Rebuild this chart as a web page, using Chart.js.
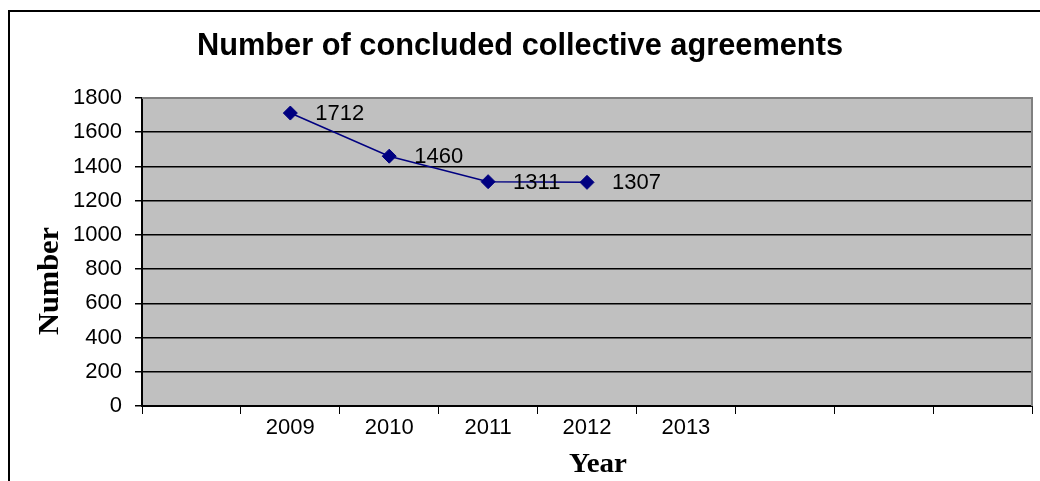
<!DOCTYPE html>
<html lang="en">
<head>
    <meta charset="UTF-8">
    <title>Number of concluded collective agreements</title>
    <script src="https://cdn.jsdelivr.net/npm/chart.js"></script>
    <style>
        body { margin: 0; background: #fff; }
    </style>
</head>
<body>
<canvas id="myChart" width="1040" height="481"></canvas>

<script>
    // Data
    var years = ['', '2009', '2010', '2011', '2012', '2013', '', '', ''];
    var agreements = [null, 1712, 1460, 1311, 1307, null, null, null, null];
    var yTicks = [0, 200, 400, 600, 800, 1000, 1200, 1400, 1600, 1800];

    var titleText = 'Number of concluded collective agreements';
    var yTitle = 'Number';
    var xTitle = 'Year';

    var ctx = document.getElementById('myChart').getContext('2d');

    // draw text stretched to a given width
    function stretchedText(c, text, x, y, width, rotate) {
        c.save();
        c.translate(x, y);
        if (rotate) c.rotate(-Math.PI / 2);
        var w = c.measureText(text).width;
        c.scale(width / w, 1);
        c.textAlign = 'center';
        c.textBaseline = 'middle';
        c.fillText(text, 0, 0);
        c.restore();
    }

    var decorations = {
        id: 'decorations',
        beforeDraw: function (chart) {
            var c = chart.ctx;
            var a = chart.chartArea;
            c.save();
            c.fillStyle = '#c0c0c0';
            c.fillRect(a.left, a.top, a.right - a.left, a.bottom - a.top);
            c.restore();
        },
        afterDatasetsDraw: function (chart) {
            var c = chart.ctx;
            var meta = chart.getDatasetMeta(0);
            c.save();
            c.font = '22px "Liberation Sans", Arial, sans-serif';
            c.fillStyle = '#000';
            c.textAlign = 'left';
            c.textBaseline = 'middle';
            meta.data.forEach(function (pt, i) {
                var v = agreements[i];
                if (v === null) return;
                c.fillText(String(v), pt.x + 25, pt.y + 1);
            });
            c.restore();
        },
        afterDraw: function (chart) {
            var c = chart.ctx;
            var a = chart.chartArea;
            c.save();
            // gray plot border on top and right
            c.strokeStyle = '#808080';
            c.lineWidth = 2;
            c.beginPath();
            c.moveTo(a.left, a.top);
            c.lineTo(a.right, a.top);
            c.lineTo(a.right, a.bottom);
            c.stroke();

            // outer frame
            c.strokeStyle = '#000';
            c.lineWidth = 2;
            c.strokeRect(9, 11, 1200, 600);

            // titles
            c.fillStyle = '#000';
            c.font = 'bold 31px "Liberation Sans", Arial, sans-serif';
            stretchedText(c, titleText, 520, 46, 646, false);
            c.font = 'bold 30px "Liberation Serif", "Times New Roman", serif';
            stretchedText(c, yTitle, 50, 281, 108, true);
            c.font = 'bold 27px "Liberation Serif", "Times New Roman", serif';
            stretchedText(c, xTitle, 598, 465, 58, false);
            c.restore();
        }
    };

    var myChart = new Chart(ctx, {
        type: 'line',
        data: {
            labels: years,
            datasets: [{
                label: 'Agreements',
                data: agreements,
                borderColor: '#000080',
                backgroundColor: '#000080',
                borderWidth: 1.5,
                pointStyle: 'rectRot',
                pointRadius: 7,
                pointBorderWidth: 1,
                pointBorderColor: '#000080',
                pointBackgroundColor: '#000080',
                tension: 0,
                fill: false
            }]
        },
        options: {
            responsive: false,
            animation: false,
            layout: {
                padding: { left: 0, right: 4, top: 98, bottom: 0 }
            },
            plugins: {
                legend: { display: false },
                tooltip: { enabled: false }
            },
            scales: {
                x: {
                    offset: true,
                    afterFit: function (scale) { scale.height = 75; },
                    grid: {
                        offset: true,
                        drawOnChartArea: false,
                        drawTicks: true,
                        tickLength: 8,
                        color: '#000',
                        lineWidth: 1
                    },
                    border: { color: '#000', width: 2 },
                    ticks: {
                        color: '#000',
                        padding: 1,
                        maxRotation: 0,
                        autoSkip: false,
                        font: { family: '"Liberation Sans", Arial, sans-serif', size: 22 }
                    }
                },
                y: {
                    min: 0,
                    max: 1800,
                    afterFit: function (scale) { scale.width = 142; },
                    afterBuildTicks: function (scale) {
                        scale.ticks = yTicks.map(function (v) { return { value: v }; });
                    },
                    grid: {
                        color: '#000',
                        lineWidth: 1.5,
                        tickLength: 7
                    },
                    border: { color: '#000', width: 2 },
                    ticks: {
                        color: '#000',
                        padding: 13,
                        callback: function (v) { return String(v); },
                        font: { family: '"Liberation Sans", Arial, sans-serif', size: 22 }
                    }
                }
            }
        },
        plugins: [decorations]
    });
</script>
</body>
</html>
